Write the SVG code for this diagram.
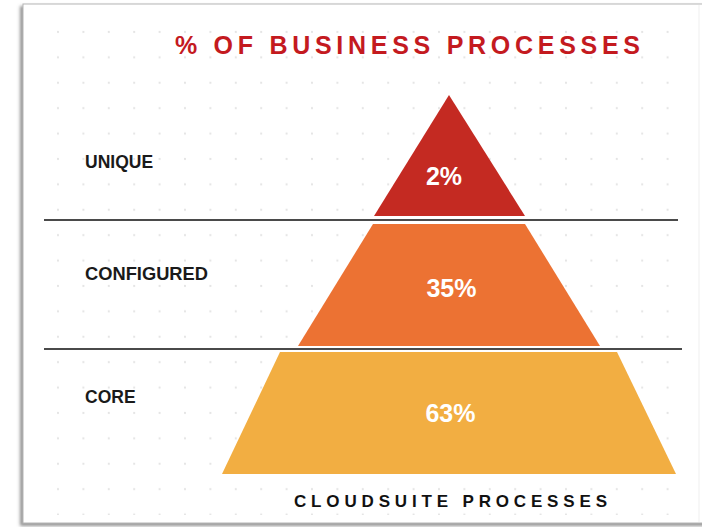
<svg xmlns="http://www.w3.org/2000/svg" width="702" height="527" viewBox="0 0 702 527">
  <defs>
    <pattern id="dots" x="45.3" y="19.3" width="25.4" height="25.4" patternUnits="userSpaceOnUse">
      <circle cx="12.7" cy="12.7" r="1.1" fill="#e4e4e4"/>
    </pattern>
    <filter id="shadow" x="-5%" y="-5%" width="110%" height="110%">
      <feDropShadow dx="-2.5" dy="2.5" stdDeviation="1.8" flood-color="#7a7a7a" flood-opacity="0.8"/>
    </filter>
    <style>
      .lbl { font-family: "Liberation Sans", Arial, sans-serif; font-weight: bold; font-size: 17.5px; fill: #1a1a1a; }
      .pct { font-family: "Liberation Sans", Arial, sans-serif; font-weight: bold; font-size: 25px; fill: #ffffff; text-anchor: middle; }
      .sep { stroke: #4a4a4a; stroke-width: 2; }
    </style>
  </defs>
  <rect width="702" height="527" fill="#ffffff"/>
  <g id="card">
    <rect x="23" y="4" width="690" height="519" fill="#ffffff" stroke="#b5b5b5" stroke-width="1" filter="url(#shadow)"/>
    <line x1="699" y1="5" x2="699" y2="522" stroke="#efefef" stroke-width="1"/>
    <rect x="45" y="20" width="635" height="495" fill="url(#dots)"/>
  </g>
  <g id="title">
    <text x="175" y="54" textLength="465" lengthAdjust="spacing" font-family="Liberation Sans, Arial, sans-serif" font-weight="bold" font-size="25" fill="#c41a1f">% OF BUSINESS PROCESSES</text>
  </g>
  <g id="connectors">
    <line class="sep" x1="44" y1="220" x2="678" y2="220"/>
    <line class="sep" x1="44" y1="349" x2="682" y2="349"/>
  </g>
  <g id="tier-unique">
    <polygon points="449,95 525,216 374,216" fill="#c42a22"/>
    <text class="pct" x="444" y="185">2%</text>
    <text class="lbl" x="85" y="168">UNIQUE</text>
  </g>
  <g id="tier-configured">
    <polygon points="373,224 525,224 600,346 298,346" fill="#ec7233"/>
    <text class="pct" x="451.5" y="297">35%</text>
    <text class="lbl" x="85" y="280" textLength="123" lengthAdjust="spacingAndGlyphs">CONFIGURED</text>
  </g>
  <g id="tier-core">
    <polygon points="280,352 617,352 676,474 222,474" fill="#f2ae42"/>
    <text class="pct" x="450.5" y="422">63%</text>
    <text class="lbl" x="85" y="403">CORE</text>
  </g>
  <g id="footer">
    <text x="294" y="507" textLength="313" lengthAdjust="spacing" font-family="Liberation Sans, Arial, sans-serif" font-weight="bold" font-size="17" fill="#111111">CLOUDSUITE PROCESSES</text>
  </g>
</svg>
